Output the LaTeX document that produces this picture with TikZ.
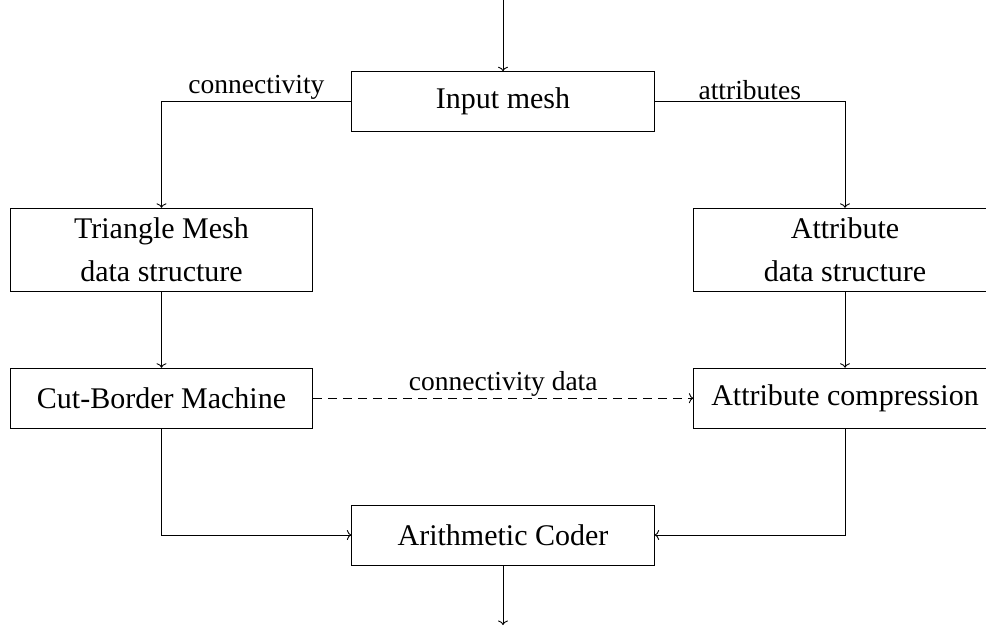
\documentclass[tikz,border=0pt]{standalone}
\usepackage{fontspec}
\setmainfont{Liberation Serif}
\usetikzlibrary{arrows.meta}
\tikzset{
  box/.style={draw, line width=0.9pt, inner sep=2pt, align=center,
    minimum width=302.3pt, font=\fontsize{30}{43}\selectfont},
  onebox/.style={box, minimum height=60pt},
  twobox/.style={box, minimum height=83.4pt},
  arr/.style={line width=0.9pt, -{To[length=4.5pt,width=10pt]}},
  lbl/.style={font=\fontsize{27.5}{33}\selectfont, inner sep=1.5pt},
  dashline/.style={arr, dash pattern=on 9pt off 6pt}
}
\begin{document}
\begin{tikzpicture}[x=1pt,y=-1pt]
\useasboundingbox (0,0) rectangle (986,626);
\node[onebox] (in)  at (503,101.7) {Input mesh};
\node[twobox] (tri) at (161.5,250) {Triangle Mesh\\data structure};
\node[twobox] (att) at (845,250) {Attribute\\data structure};
\node[onebox] (cbm) at (161.5,398.2) {Cut-Border Machine};
\node[onebox] (ac)  at (845,398.2) {Attribute compression};
\node[onebox] (ar)  at (503,535) {Arithmetic Coder};
\coordinate (top) at (503,0);
\coordinate (bot) at (503,625);
\draw[arr] (top) -- (in.north);
\draw[arr] (in.west) -| node[lbl, pos=0.25, above] {connectivity} (tri.north);
\draw[arr] (in.east) -| node[lbl, pos=0.25, above] {attributes} (att.north);
\draw[arr] (tri.south) -- (cbm.north);
\draw[arr] (att.south) -- (ac.north);
\draw[dashline] (cbm.east) -- node[lbl, above] {connectivity data} (ac.west);
\draw[arr] (cbm.south) |- (ar.west);
\draw[arr] (ac.south) |- (ar.east);
\draw[arr] (ar.south) -- (bot);
\end{tikzpicture}
\end{document}
